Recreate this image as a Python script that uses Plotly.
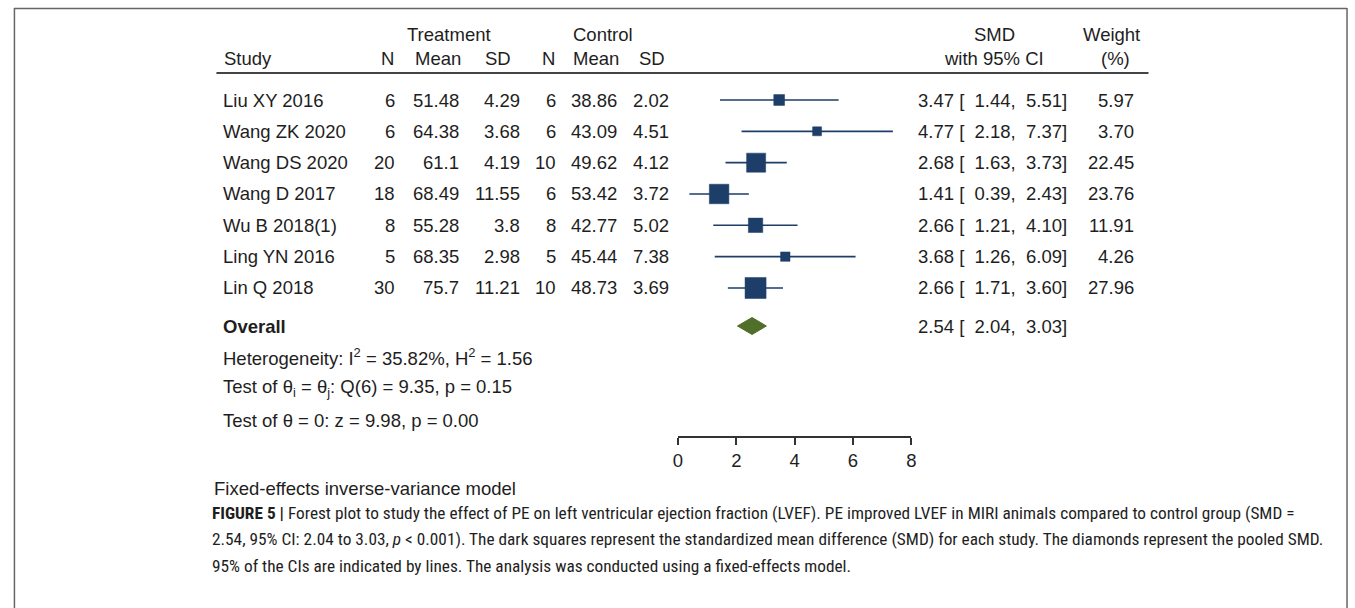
import plotly.graph_objects as go
import math

# ---------------- data ----------------
studies = ["Liu XY 2016", "Wang ZK 2020", "Wang DS 2020", "Wang D 2017",
           "Wu B 2018(1)", "Ling YN 2016", "Lin Q 2018"]
t_n = ["6", "6", "20", "18", "8", "5", "30"]
t_mean = ["51.48", "64.38", "61.1", "68.49", "55.28", "68.35", "75.7"]
t_sd = ["4.29", "3.68", "4.19", "11.55", "3.8", "2.98", "11.21"]
c_n = ["6", "6", "10", "6", "8", "5", "10"]
c_mean = ["38.86", "43.09", "49.62", "53.42", "42.77", "45.44", "48.73"]
c_sd = ["2.02", "4.51", "4.12", "3.72", "5.02", "7.38", "3.69"]
smd = [3.47, 4.77, 2.68, 1.41, 2.66, 3.68, 2.66]
ci_lo = [1.44, 2.18, 1.63, 0.39, 1.21, 1.26, 1.71]
ci_hi = [5.51, 7.37, 3.73, 2.43, 4.10, 6.09, 3.60]
weight = [5.97, 3.70, 22.45, 23.76, 11.91, 4.26, 27.96]
overall_smd = 2.54
overall_lo = 2.04
overall_hi = 3.03
x_ticks = [0, 2, 4, 6, 8]

# ---------------- layout helpers ----------------
W, H = 1355, 608
ROW0_PX, ROW_STEP = 100.0, 31.33
def row_of(px):
    return (px - ROW0_PX) / ROW_STEP
def xp(px):
    return px / W
def yp(px):
    return 1 - px / H

FONT = "Liberation Sans, Arial, Helvetica, sans-serif"
TXT = "#1e1e1e"
NAVY = "#1d3e69"
GREEN = "#4f6f2a"
FS = 18.5

fig = go.Figure()

rows = list(range(len(studies)))
# CI lines
for i in rows:
    fig.add_trace(go.Scatter(x=[ci_lo[i], ci_hi[i]], y=[i, i], mode="lines",
                             line=dict(color=NAVY, width=1.6),
                             hoverinfo="skip", showlegend=False))
# squares
fig.add_trace(go.Scatter(x=smd, y=rows, mode="markers",
                         marker=dict(symbol="square", color=NAVY, opacity=1,
                                     size=[3.6 * math.sqrt(w) + 2 for w in weight],
                                     line=dict(width=0.5, color=NAVY)),
                         hoverinfo="skip", showlegend=False))
# overall diamond
r_ov = row_of(326)
h = 8.5 / ROW_STEP
fig.add_trace(go.Scatter(x=[overall_lo, overall_smd, overall_hi, overall_smd, overall_lo],
                         y=[r_ov, r_ov - h, r_ov, r_ov + h, r_ov],
                         mode="lines", fill="toself", fillcolor=GREEN,
                         line=dict(color=GREEN, width=1),
                         hoverinfo="skip", showlegend=False))

ann = []
PAD = {"left": -3, "right": 3, "center": 0}
def T(text, xpx, ypx, anchor="left", size=FS, family=FONT, color=TXT):
    ann.append(dict(text=text, x=xp(xpx), y=yp(ypx), xref="paper", yref="paper",
                    xanchor=anchor, yanchor="middle", showarrow=False,
                    xshift=PAD[anchor],
                    font=dict(size=size, family=family, color=color)))

# headers
T("Treatment", 447, 34, "center")
T("Control", 602, 34, "center")
T("Study", 222, 59)
T("N", 391, 59, "right")
T("Mean", 458, 59, "right")
T("SD", 509, 59, "right")
T("N", 553, 59, "right")
T("Mean", 618, 59, "right")
T("SD", 664, 59, "right")
T("SMD", 997, 34, "center")
T("with 95% CI", 996, 59, "center")
T("Weight", 1115, 34, "center")
T("(%)", 1119, 59, "center")

NB = "&nbsp;"
for i in rows:
    ypx = ROW0_PX + ROW_STEP * i
    T(studies[i], 221, ypx)
    T(t_n[i], 392, ypx, "right")
    T(t_mean[i], 456, ypx, "right")
    T(t_sd[i], 518, ypx, "right")
    T(c_n[i], 554, ypx, "right")
    T(c_mean[i], 616, ypx, "right")
    T(c_sd[i], 668, ypx, "right")
    s = f"{smd[i]:.2f} [{NB}{NB}{ci_lo[i]:.2f},{NB}{NB}{ci_hi[i]:.2f}]"
    T(s, 921, ypx)
    T(f"{weight[i]:.2f}", 1136, ypx, "right")

T("<b>Overall</b>", 221, 326)
T(f"{overall_smd:.2f} [{NB}{NB}{overall_lo:.2f},{NB}{NB}{overall_hi:.2f}]", 921, 326)
T("Heterogeneity: I<sup>2</sup> = 35.82%, H<sup>2</sup> = 1.56", 221, 357)
T("Test of θ<sub>i</sub> = θ<sub>j</sub>: Q(6) = 9.35, p = 0.15", 221, 388)
T("Test of θ = 0: z = 9.98, p = 0.00", 221, 420)
T("Fixed-effects inverse-variance model", 212, 488, size=18.5)

CAP = "Liberation Sans Narrow, Arial Narrow, Roboto Condensed, Liberation Sans, sans-serif"
CS = 17.3
T("<b>FIGURE 5 |</b> Forest plot to study the effect of PE on left ventricular ejection fraction (LVEF). "
  "PE improved LVEF in MIRI animals compared to control group (SMD =", 210, 513, size=CS, family=CAP)
T("2.54, 95% CI: 2.04 to 3.03, <i>p</i> &lt; 0.001). The dark squares represent the standardized mean "
  "difference (SMD) for each study. The diamonds represent the pooled SMD.", 210, 539, size=CS, family=CAP)
T("95% of the CIs are indicated by lines. The analysis was conducted using a fixed-effects model.",
  210, 566, size=CS, family=CAP)

shapes = [
    # header rule
    dict(type="line", xref="paper", yref="paper", x0=xp(213), x1=xp(1152), y0=yp(73), y1=yp(73),
         line=dict(color="#444", width=2)),
    # frame
    dict(type="line", xref="paper", yref="paper", x0=xp(9), x1=xp(1352), y0=yp(8.5), y1=yp(8.5),
         line=dict(color="#666", width=1.5)),
    dict(type="line", xref="paper", yref="paper", x0=xp(9.5), x1=xp(9.5), y0=yp(8), y1=0,
         line=dict(color="#666", width=1.5)),
    dict(type="line", xref="paper", yref="paper", x0=xp(1352), x1=xp(1352), y0=yp(8), y1=0,
         line=dict(color="#666", width=1.5)),
]

fig.update_layout(
    width=W, height=H, margin=dict(l=0, r=0, t=0, b=0),
    paper_bgcolor="white", plot_bgcolor="white",
    annotations=ann, shapes=shapes, showlegend=False,
    xaxis=dict(domain=[xp(678), xp(913)], range=[0, 8], tickvals=x_ticks,
               ticks="outside", ticklen=7, tickwidth=1.5, tickcolor="#333",
               showline=True, linecolor="#333", linewidth=1.5,
               showgrid=False, zeroline=False, anchor="free", position=yp(437),
               tickfont=dict(size=FS, family=FONT, color=TXT)),
    yaxis=dict(domain=[0, 1], range=[row_of(H), row_of(0)], visible=False,
               showgrid=False, zeroline=False),
)

fig.write_html("out.html", config={"displayModeBar": False},
               post_script="document.body.style.margin='0';document.body.style.overflow='hidden';")
